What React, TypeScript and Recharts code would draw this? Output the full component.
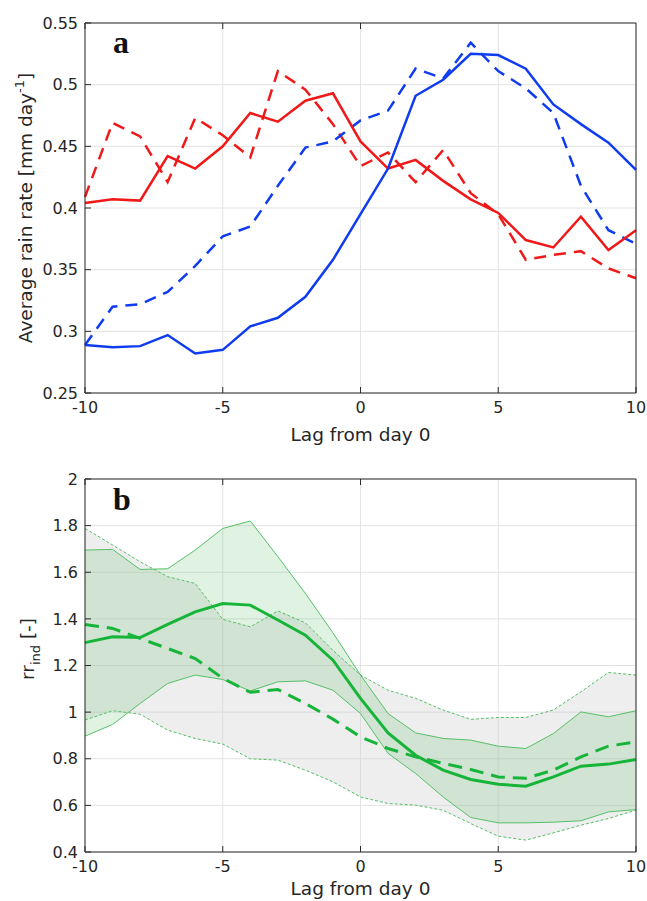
import { ComposedChart, Line, Area, XAxis, YAxis, CartesianGrid, Label } from "recharts";

// lag in days relative to day 0
const lags = [-10, -9, -8, -7, -6, -5, -4, -3, -2, -1, 0, 1, 2, 3, 4, 5, 6, 7, 8, 9, 10];

// panel a: average rain rate [mm day-1]
const redSolid = [0.404, 0.407, 0.406, 0.442, 0.432, 0.45, 0.477, 0.47, 0.487, 0.493, 0.454, 0.432, 0.439, 0.422, 0.407, 0.396, 0.374, 0.368, 0.393, 0.366, 0.382];
const redDashed = [0.409, 0.469, 0.458, 0.421, 0.473, 0.459, 0.441, 0.511, 0.496, 0.468, 0.434, 0.445, 0.421, 0.447, 0.412, 0.395, 0.358, 0.362, 0.365, 0.351, 0.343];
const blueSolid = [0.289, 0.287, 0.288, 0.297, 0.282, 0.285, 0.304, 0.311, 0.328, 0.358, 0.395, 0.432, 0.491, 0.504, 0.525, 0.524, 0.513, 0.484, 0.468, 0.453, 0.431];
const blueDashed = [0.289, 0.32, 0.322, 0.332, 0.353, 0.377, 0.385, 0.418, 0.449, 0.454, 0.471, 0.479, 0.513, 0.505, 0.534, 0.511, 0.497, 0.477, 0.418, 0.382, 0.371];

// panel b: rr_ind [-]
const rrSolid = [1.298, 1.323, 1.32, 1.376, 1.43, 1.466, 1.459, 1.395, 1.33, 1.223, 1.059, 0.911, 0.815, 0.751, 0.711, 0.691, 0.682, 0.722, 0.768, 0.777, 0.797];
const rrDashed = [1.376, 1.359, 1.316, 1.273, 1.23, 1.145, 1.085, 1.097, 1.037, 0.97, 0.894, 0.844, 0.808, 0.78, 0.754, 0.722, 0.716, 0.751, 0.808, 0.854, 0.873];
const greenUpper = [1.695, 1.698, 1.612, 1.615, 1.695, 1.788, 1.82, 1.667, 1.509, 1.34, 1.159, 0.994, 0.911, 0.887, 0.88, 0.854, 0.844, 0.908, 1.001, 0.98, 1.006];
const greenLower = [0.897, 0.947, 1.037, 1.123, 1.159, 1.14, 1.091, 1.13, 1.134, 1.094, 0.994, 0.823, 0.737, 0.636, 0.548, 0.525, 0.525, 0.528, 0.534, 0.572, 0.582];
const grayUpper = [1.788, 1.717, 1.645, 1.581, 1.552, 1.398, 1.366, 1.434, 1.383, 1.265, 1.159, 1.094, 1.059, 1.009, 0.969, 0.977, 0.977, 1.009, 1.087, 1.17, 1.159];
const grayLower = [0.966, 1.006, 0.991, 0.923, 0.887, 0.863, 0.8, 0.794, 0.751, 0.701, 0.636, 0.608, 0.601, 0.579, 0.522, 0.468, 0.451, 0.482, 0.515, 0.544, 0.579];

const xTicks = [-10, -5, 0, 5, 10];
const rainTicks = [0.25, 0.3, 0.35, 0.4, 0.45, 0.5, 0.55];
const rrTicks = [0.4, 0.6, 0.8, 1, 1.2, 1.4, 1.6, 1.8, 2];

const FONT = "DejaVu Sans, sans-serif";
const AXIS = "#2b2b2b";
const GRID = "#e3e3e3";
const RED = "#f01818";
const BLUE = "#0f3cf0";
const GREEN = "#17b43a";
const GREEN_THIN = "#55c068";
const tickStyle = { fontSize: 16, fill: "#262626", fontFamily: FONT };
const noTick = () => <g />;

const rainData = lags.map((lag, i) => ({
  lag,
  redSolid: redSolid[i],
  redDashed: redDashed[i],
  blueSolid: blueSolid[i],
  blueDashed: blueDashed[i],
}));

const rrData = lags.map((lag, i) => ({
  lag,
  rrSolid: rrSolid[i],
  rrDashed: rrDashed[i],
  greenUpper: greenUpper[i],
  greenLower: greenLower[i],
  grayUpper: grayUpper[i],
  grayLower: grayLower[i],
  greenBand: [greenLower[i], greenUpper[i]],
  grayBand: [grayLower[i], grayUpper[i]],
}));

// x label + panel letter drawn together
function xLabel(labelY: number, letter: string, letterY: number) {
  return () => (
    <g>
      <text x={360.5} y={labelY} textAnchor="middle" fontSize={18.5} fontFamily={FONT} fill="#262626">
        Lag from day 0
      </text>
      <text x={113} y={letterY} fontSize={32} fontWeight="bold" fontFamily="Liberation Serif, serif" fill="#111">
        {letter}
      </text>
    </g>
  );
}

export default function App() {
  return (
    <div style={{ position: "absolute", left: 0, top: 0, width: 647, height: 901, background: "#fff" }}>
      {/* a */}
      <ComposedChart width={647} height={455} data={rainData} margin={{ top: 22, right: 10, bottom: 11, left: 25 }}>
        <CartesianGrid stroke={GRID} />
        <XAxis
          dataKey="lag"
          type="number"
          domain={[-10, 10]}
          ticks={xTicks}
          interval={0}
          height={51}
          stroke={AXIS}
          tickSize={-6}
          tickMargin={15}
          tick={tickStyle}
        >
          <Label content={xLabel(441, "a", 53)} />
        </XAxis>
        <XAxis xAxisId="top" orientation="top" type="number" domain={[-10, 10]} ticks={xTicks} interval={0} height={1} stroke={AXIS} tickSize={-6} tick={noTick} />
        <YAxis
          type="number"
          domain={[0.25, 0.55]}
          ticks={rainTicks}
          interval={0}
          allowDataOverflow
          width={60}
          stroke={AXIS}
          tickSize={-6}
          tickMargin={13}
          tick={tickStyle}
        >
          <Label
            content={() => (
              <text transform="translate(32,208) rotate(-90)" textAnchor="middle" fontSize={18.5} fontFamily={FONT} fill="#262626">
                Average rain rate [mm day<tspan dy={-8} fontSize={13}>-1</tspan>
                <tspan dy={8}>]</tspan>
              </text>
            )}
          />
        </YAxis>
        <YAxis yAxisId="right" orientation="right" type="number" domain={[0.25, 0.55]} ticks={rainTicks} interval={0} width={1} stroke={AXIS} tickSize={-6} tick={noTick} />
        <Line dataKey="redDashed" stroke={RED} strokeWidth={2.5} strokeDasharray="12 8" dot={false} isAnimationActive={false} />
        <Line dataKey="blueDashed" stroke={BLUE} strokeWidth={2.5} strokeDasharray="12 8" dot={false} isAnimationActive={false} />
        <Line dataKey="redSolid" stroke={RED} strokeWidth={2.5} dot={false} isAnimationActive={false} />
        <Line dataKey="blueSolid" stroke={BLUE} strokeWidth={2.5} dot={false} isAnimationActive={false} />
      </ComposedChart>

      {/* b */}
      <ComposedChart width={647} height={446} data={rrData} margin={{ top: 23, right: 10, bottom: 4, left: 25 }}>
        <Area dataKey="grayBand" stroke="none" fill="#cfcfcf" fillOpacity={0.35} isAnimationActive={false} />
        <CartesianGrid stroke={GRID} />
        <Area dataKey="greenBand" stroke="none" fill="#3cb44b" fillOpacity={0.16} isAnimationActive={false} />
        <XAxis
          dataKey="lag"
          type="number"
          domain={[-10, 10]}
          ticks={xTicks}
          interval={0}
          height={45}
          stroke={AXIS}
          tickSize={-6}
          tickMargin={15}
          tick={tickStyle}
        >
          <Label content={xLabel(440, "b", 55)} />
        </XAxis>
        <XAxis xAxisId="top" orientation="top" type="number" domain={[-10, 10]} ticks={xTicks} interval={0} height={1} stroke={AXIS} tickSize={-6} tick={noTick} />
        <YAxis
          type="number"
          domain={[0.4, 2]}
          ticks={rrTicks}
          interval={0}
          allowDataOverflow
          width={60}
          stroke={AXIS}
          tickSize={-6}
          tickMargin={13}
          tick={tickStyle}
        >
          <Label
            content={() => (
              <text transform="translate(34,194) rotate(-90)" textAnchor="middle" fontSize={18.5} fontFamily={FONT} fill="#262626">
                rr<tspan dy={6} fontSize={13}>ind</tspan>
                <tspan dy={-6}> [-]</tspan>
              </text>
            )}
          />
        </YAxis>
        <YAxis yAxisId="right" orientation="right" type="number" domain={[0.4, 2]} ticks={rrTicks} interval={0} width={1} stroke={AXIS} tickSize={-6} tick={noTick} />
        <Line dataKey="grayUpper" stroke={GREEN_THIN} strokeWidth={1} strokeDasharray="3 2" dot={false} isAnimationActive={false} />
        <Line dataKey="grayLower" stroke={GREEN_THIN} strokeWidth={1} strokeDasharray="3 2" dot={false} isAnimationActive={false} />
        <Line dataKey="greenUpper" stroke={GREEN_THIN} strokeWidth={1} dot={false} isAnimationActive={false} />
        <Line dataKey="greenLower" stroke={GREEN_THIN} strokeWidth={1} dot={false} isAnimationActive={false} />
        <Line dataKey="rrDashed" stroke={GREEN} strokeWidth={3} strokeDasharray="14 8" dot={false} isAnimationActive={false} />
        <Line dataKey="rrSolid" stroke={GREEN} strokeWidth={3} dot={false} isAnimationActive={false} />
      </ComposedChart>
    </div>
  );
}
